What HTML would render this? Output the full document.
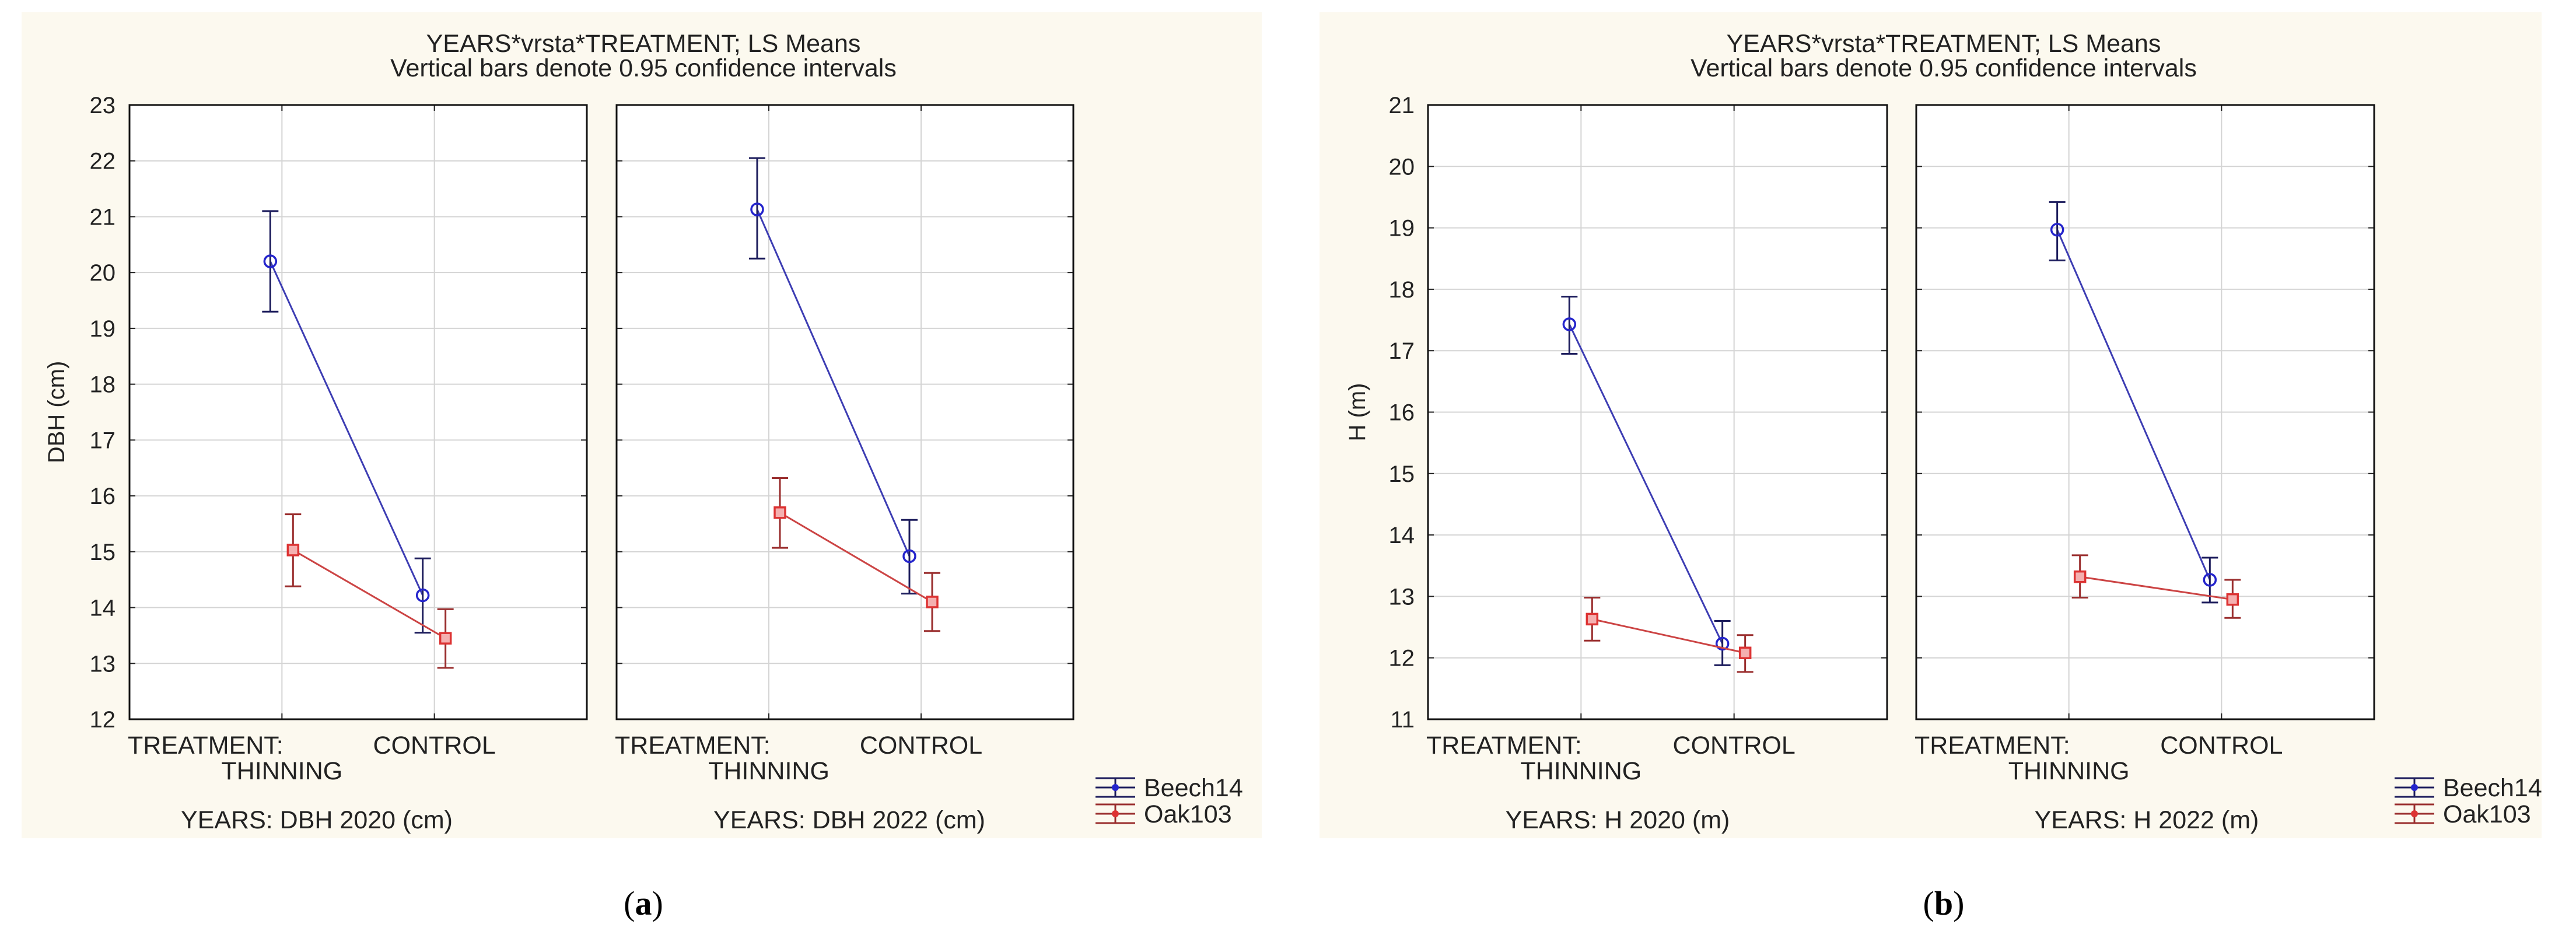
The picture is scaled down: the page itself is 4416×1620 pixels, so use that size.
<!DOCTYPE html>
<html><head><meta charset="utf-8"><style>
html,body{margin:0;padding:0;background:#fff;}
svg{display:block;font-family:"Liberation Sans",sans-serif;}
</style></head><body>
<svg id="c" width="4416" height="1620" viewBox="0 0 4416 1620" xmlns="http://www.w3.org/2000/svg"></svg>
<script>
const categories = ["THINNING", "CONTROL"];
const series = ["Beech14", "Oak103"];
// figure a: DBH
const a2020Beech = [20.2, 14.22], a2020BeechLo = [19.3, 13.55], a2020BeechHi = [21.1, 14.88];
const a2020Oak = [15.03, 13.45], a2020OakLo = [14.38, 12.92], a2020OakHi = [15.67, 13.97];
const a2022Beech = [21.13, 14.92], a2022BeechLo = [20.25, 14.25], a2022BeechHi = [22.05, 15.57];
const a2022Oak = [15.7, 14.1], a2022OakLo = [15.07, 13.58], a2022OakHi = [16.32, 14.62];
const aTicks = [12,13,14,15,16,17,18,19,20,21,22,23];
// figure b: H
const b2020Beech = [17.43, 12.23], b2020BeechLo = [16.95, 11.88], b2020BeechHi = [17.88, 12.6];
const b2020Oak = [12.63, 12.08], b2020OakLo = [12.28, 11.77], b2020OakHi = [12.98, 12.37];
const b2022Beech = [18.97, 13.27], b2022BeechLo = [18.47, 12.9], b2022BeechHi = [19.42, 13.63];
const b2022Oak = [13.32, 12.95], b2022OakLo = [12.98, 12.65], b2022OakHi = [13.67, 13.27];
const bTicks = [11,12,13,14,15,16,17,18,19,20,21];

const NS = "http://www.w3.org/2000/svg";
const svg = document.getElementById("c");
function mk(tag, attrs, parent, text){
  const e = document.createElementNS(NS, tag);
  for (const k in attrs) e.setAttribute(k, attrs[k]);
  if (text !== undefined) e.textContent = text;
  (parent || svg).appendChild(e);
  return e;
}
const TOP = 180, BOT = 1233, FS = 43;

function figure(cfg){
  const g = mk("g", {});
  
  
  const bg = mk("rect", {x:cfg.bgL, y:21, width:cfg.bgR-cfg.bgL, height:1416, fill:"#fcf9ef"}, g);
  
  
  const t1 = mk("text", {x:cfg.titleX, y:89, "font-size":FS, "text-anchor":"middle", fill:"#222"}, g, "YEARS*vrsta*TREATMENT; LS Means");
  
  
  const t2 = mk("text", {x:cfg.titleX, y:131, "font-size":FS, "text-anchor":"middle", fill:"#222"}, g, "Vertical bars denote 0.95 confidence intervals");
  
  
  const lo = cfg.ticks[0], hi = cfg.ticks[cfg.ticks.length-1];
  const y = v => BOT - (v - lo) / (hi - lo) * (BOT - TOP);
  const yt = mk("text", {x:0, y:0, "font-size":40, "text-anchor":"middle", fill:"#222", transform:`translate(${cfg.yTitleX},${y((lo+hi)/2)}) rotate(-90)`}, g, cfg.yTitle);
  
  
  cfg.ticks.forEach(v => {
    const tl = mk("text", {x:cfg.tickX, y:y(v)+14, "font-size":40, "text-anchor":"end", fill:"#222"}, g, String(v));
    
    
  });
  cfg.panels.forEach(p => {
    const pg = mk("g", {}, g);
    
    
    const w = p.r - p.l;
    const x = i => p.l + w * (i + 1) / 3;
    mk("rect", {x:p.l, y:TOP, width:w, height:BOT-TOP, fill:"#fff"}, pg);
    cfg.ticks.forEach(v => {
      const gl = mk("line", {x1:p.l, x2:p.r, y1:y(v), y2:y(v), stroke:"#d4d4d4", "stroke-width":2}, pg);
      
      
      mk("line", {x1:p.l, x2:p.l+10, y1:y(v), y2:y(v), stroke:"#222", "stroke-width":2}, pg);
      mk("line", {x1:p.r-10, x2:p.r, y1:y(v), y2:y(v), stroke:"#222", "stroke-width":2}, pg);
    });
    categories.forEach((c, i) => {
      mk("line", {x1:x(i), x2:x(i), y1:TOP, y2:BOT, stroke:"#d4d4d4", "stroke-width":2}, pg);
      mk("line", {x1:x(i), x2:x(i), y1:BOT-10, y2:BOT, stroke:"#222", "stroke-width":2}, pg);
      mk("line", {x1:x(i), x2:x(i), y1:TOP, y2:TOP+10, stroke:"#222", "stroke-width":2}, pg);
    });
    const fr = mk("rect", {x:p.l, y:TOP, width:w, height:BOT-TOP, fill:"none", stroke:"#111", "stroke-width":3}, pg);
    
    
    const xl1 = mk("text", {x:p.l - 3, y:1292, "font-size":FS, fill:"#222"}, pg, "TREATMENT:");
    
    
    const xl2 = mk("text", {x:x(0), y:1336, "font-size":FS, "text-anchor":"middle", fill:"#222"}, pg, "THINNING");
    
    
    const xl3 = mk("text", {x:x(1), y:1292, "font-size":FS, "text-anchor":"middle", fill:"#222"}, pg, "CONTROL");
    
    
    const yl = mk("text", {x:p.labelX, y:1420, "font-size":FS, "text-anchor":"middle", fill:"#222"}, pg, p.label);
    
    
    const defs = [
      {vals:p.beech, lo:p.beechLo, hi:p.beechHi, off:-20, line:"#3d3db3", bar:"#1c1c5c", mark:"#2424cc", shape:"circle", name:"beech-series"},
      {vals:p.oak, lo:p.oakLo, hi:p.oakHi, off:19, line:"#cc4444", bar:"#9a2e2e", mark:"#dd3333", shape:"square", name:"oak-series"}
    ];
    defs.forEach(s => {
      const sg = mk("g", {}, pg);
      
      
      const pts = s.vals.map((v, i) => `${x(i)+s.off},${y(v)}`).join(" ");
      const pl = mk("polyline", {points:pts, fill:"none", stroke:s.line, "stroke-width":3}, sg);
      
      
      s.vals.forEach((v, i) => {
        const cx = x(i) + s.off;
        const eb = mk("path", {d:`M${cx},${y(s.lo[i])}V${y(s.hi[i])}M${cx-14},${y(s.lo[i])}h28M${cx-14},${y(s.hi[i])}h28`, stroke:s.bar, "stroke-width":3, fill:"none"}, sg);
        
        
        let m;
        if (s.shape === "circle") m = mk("circle", {cx:cx, cy:y(v), r:10, fill:"none", stroke:s.mark, "stroke-width":3.5}, sg);
        else m = mk("rect", {x:cx-9, y:y(v)-9, width:18, height:18, fill:"#f4b0b0", stroke:s.mark, "stroke-width":3.5}, sg);
        
        
      });
    });
  });
  const lg = mk("g", {}, g);
  
  
  [["Beech14", "#1c1c5c", "#2424cc", 1350], ["Oak103", "#9a2e2e", "#dd3333", 1395]].forEach(([n, c, mc, ly]) => {
    const e = mk("g", {}, lg);
    
    
    const L = cfg.legX, R = cfg.legX + 68, cx = (L + R) / 2;
    mk("path", {d:`M${L},${ly-16}H${R}M${L},${ly}H${R}M${L},${ly+16}H${R}M${cx},${ly-16}V${ly+16}`, stroke:c, "stroke-width":3, fill:"none"}, e);
    mk("circle", {cx:cx, cy:ly, r:6, fill:mc}, e);
    mk("text", {x:cfg.legX + 83, y:ly+15, "font-size":FS, fill:"#222"}, e, n);
  });
  const cap = mk("text", {x:cfg.titleX, y:1568, "font-size":58, "text-anchor":"middle", fill:"#000", "font-family":"Liberation Serif, serif"}, g);
  
  
  mk("tspan", {}, cap, "(");
  mk("tspan", {"font-weight":"bold"}, cap, cfg.cap);
  mk("tspan", {}, cap, ")");
}

figure({name:"figure-a-dbh", bgL:37, bgR:2163, titleX:1103, yTitle:"DBH (cm)", yTitleX:110, tickX:198, ticks:aTicks, legX:1878, cap:"a",
  panels:[
    {l:222, r:1006, label:"YEARS: DBH 2020 (cm)", labelX:543, beech:a2020Beech, beechLo:a2020BeechLo, beechHi:a2020BeechHi, oak:a2020Oak, oakLo:a2020OakLo, oakHi:a2020OakHi},
    {l:1057, r:1840, label:"YEARS: DBH 2022 (cm)", labelX:1456, beech:a2022Beech, beechLo:a2022BeechLo, beechHi:a2022BeechHi, oak:a2022Oak, oakLo:a2022OakLo, oakHi:a2022OakHi}
  ]});
figure({name:"figure-b-height", bgL:2262, bgR:4357, titleX:3332, yTitle:"H (m)", yTitleX:2340, tickX:2425, ticks:bTicks, legX:4105, cap:"b",
  panels:[
    {l:2448, r:3235, label:"YEARS: H 2020 (m)", labelX:2773, beech:b2020Beech, beechLo:b2020BeechLo, beechHi:b2020BeechHi, oak:b2020Oak, oakLo:b2020OakLo, oakHi:b2020OakHi},
    {l:3285, r:4070, label:"YEARS: H 2022 (m)", labelX:3680, beech:b2022Beech, beechLo:b2022BeechLo, beechHi:b2022BeechHi, oak:b2022Oak, oakLo:b2022OakLo, oakHi:b2022OakHi}
  ]});
</script>
</body></html>
